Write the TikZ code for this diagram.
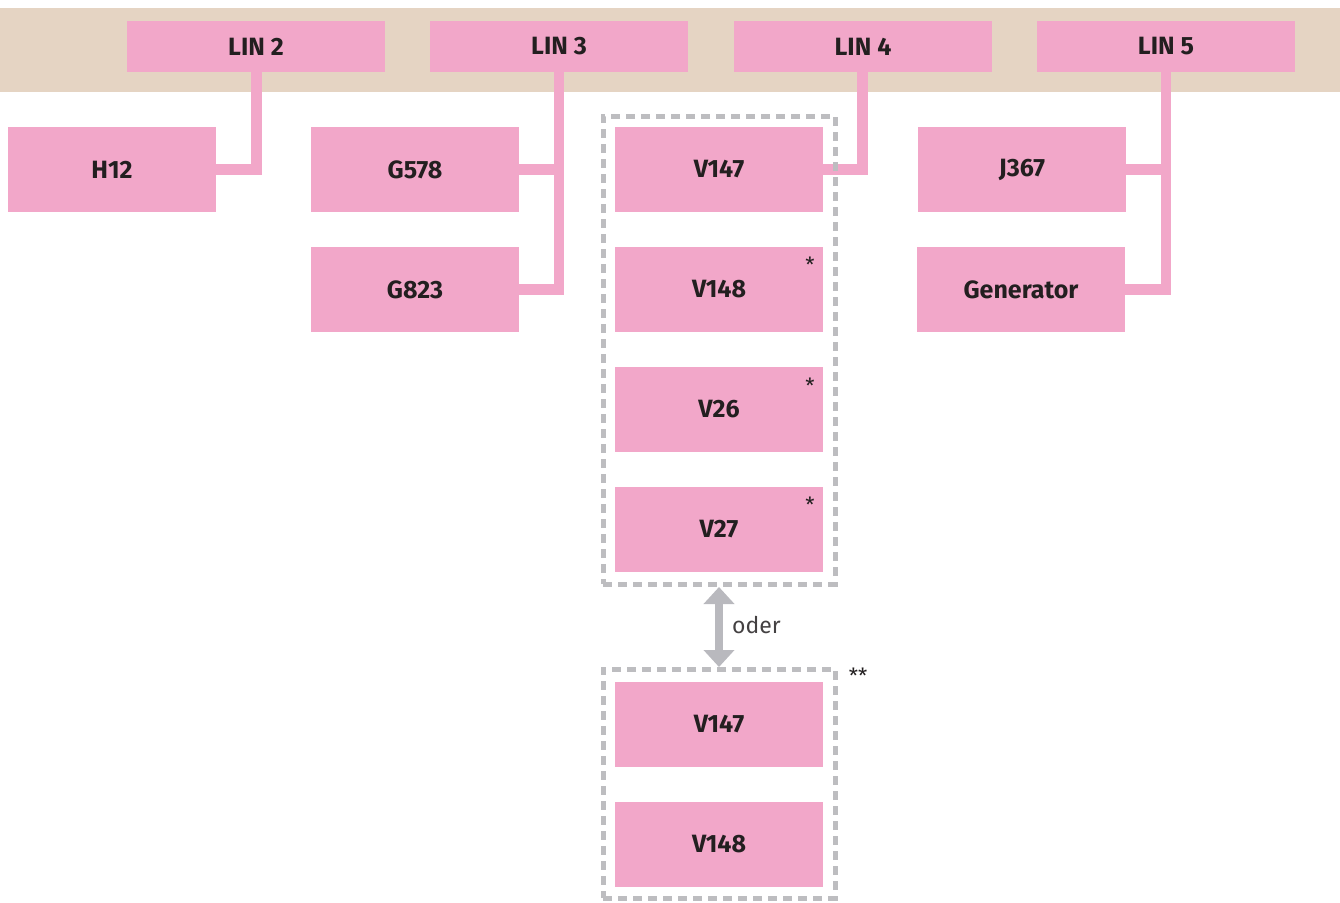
\documentclass[tikz,border=0pt]{standalone}
\usepackage{fontspec}
\setmainfont{Fira Sans}
\usetikzlibrary{arrows.meta,calc}
\definecolor{pinkbox}{HTML}{F2A7C9}
\definecolor{band}{HTML}{E5D4C3}
\definecolor{txt}{HTML}{231F20}
\definecolor{dashgray}{HTML}{BDBDC0}
\definecolor{arrowgray}{HTML}{B9B9BE}
\tikzset{
  box/.style={fill=pinkbox, draw=none, minimum width=208pt, minimum height=85pt, inner sep=0pt, outer sep=0pt,
    font=\fontsize{25}{25}\selectfont\bfseries, text=txt, anchor=north west},
  linbox/.style={box, minimum width=258pt, minimum height=51pt},
  wire/.style={draw=pinkbox, line width=10.5pt, line cap=butt, line join=miter},
  grp/.style={draw=dashgray, line width=5pt, dash pattern=on 9pt off 6pt, inner sep=0pt, outer sep=0pt, anchor=north west},
  star/.style={font=\fontsize{21}{21}\selectfont, text=txt, inner sep=0pt}
}
\begin{document}
\begin{tikzpicture}[x=1pt,y=-1pt]
\useasboundingbox (0,0) rectangle (1340,902);
\fill[band] (0,8) rectangle (1340,92);
% nodes
\node[linbox] (lin2) at (127,21) {LIN 2};
\node[linbox] (lin3) at (430,21) {LIN 3};
\node[linbox] (lin4) at (734,21) {LIN 4};
\node[linbox] (lin5) at (1037,21) {LIN 5};
\node[box] (h12) at (8,127) {H12};
\node[box] (g578) at (311,127) {G578};
\node[box] (g823) at (311,247) {G823};
\node[box] (v147) at (615,127) {V147};
\node[box] (v148) at (615,247) {V148};
\node[box] (v26) at (615,367) {V26};
\node[box] (v27) at (615,487) {V27};
\node[box] (j367) at (918,127) {J367};
\node[box] (gen) at (917,247) {Generator};
\node[box] (v147b) at (615,682) {V147};
\node[box] (v148b) at (615,802) {V148};
% wires
\draw[wire] (lin2.south) ++(0.5,0) |- (h12.east);
\draw[wire] (lin3.south) |- (g823.east);
\draw[wire] (lin3.south |- g578.east) -- (g578.east);
\draw[wire] (lin4.south) ++(-0.5,0) |- (v147.east);
\draw[wire] (lin5.south) |- (gen.east);
\draw[wire] (lin5.south |- j367.east) -- (j367.east);
% groups
\node[grp, minimum width=232pt, minimum height=468pt] (grp1) at (603,116) {};
\node[grp, minimum width=232pt, minimum height=229pt] (grp2) at (603,669) {};
% arrow
\draw[arrowgray, line width=7.5pt, {Triangle[width=30pt,length=17pt]}-{Triangle[width=30pt,length=17pt]}] ($(grp1.south -| v27.south)+(0,3)$) -- ($(grp2.north -| v147b.north)+(0,-2)$);
\node[anchor=west, text=txt!85, font=\fontsize{23}{23}\selectfont, inner sep=0pt] (oder) at (732,625) {oder};
% stars
\node[star] (s1) at (810,265) {*};
\node[star] (s2) at (810,386) {*};
\node[star] (s3) at (810,505) {*};
\node[star] (s4) at (858,676) {**};
\end{tikzpicture}
\end{document}
